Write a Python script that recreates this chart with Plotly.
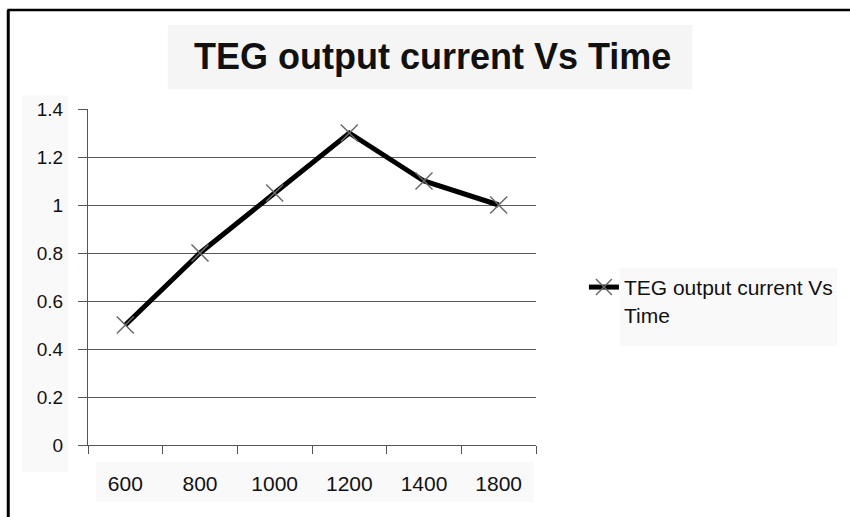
import plotly.graph_objects as go

# Time steps (category labels) and TEG output current readings
time_labels = ["600", "800", "1000", "1200", "1400", "1800"]
current_values = [0.5, 0.8, 1.05, 1.3, 1.1, 1.0]
y_ticks = [0, 0.2, 0.4, 0.6, 0.8, 1.0, 1.2, 1.4]
y_tick_text = ["0", "0.2", "0.4", "0.6", "0.8", "1", "1.2", "1.4"]

title_text = "TEG output current Vs Time"
series_name = "TEG output current Vs<br>Time"

FONT = "Liberation Sans, Arial, sans-serif"

fig = go.Figure()
fig.add_trace(go.Scatter(
    x=time_labels,
    y=current_values,
    mode="lines+markers",
    name=series_name,
    line=dict(color="black", width=5),
    marker=dict(symbol="x-thin-open", size=17, color="#6a6a6a",
                line=dict(color="#6a6a6a", width=1.5)),
))

shapes = [
    # outer frame: top and left edges
    dict(type="line", xref="paper", yref="paper", x0=-0.18, x1=1.72,
         y0=1.295, y1=1.295, line=dict(color="black", width=2.5)),
    dict(type="line", xref="paper", yref="paper", x0=-0.178, x1=-0.178,
         y0=1.295, y1=-0.25, line=dict(color="black", width=3)),
    # faint panels behind the title, tick labels and legend text
    dict(type="rect", xref="paper", yref="paper", x0=0.178, x1=1.349,
         y0=1.058, y1=1.25, fillcolor="#f5f5f5", line_width=0, layer="below"),
    dict(type="rect", xref="paper", yref="paper", x0=-0.147, x1=-0.045,
         y0=-0.08, y1=1.04, fillcolor="#f9f9f9", line_width=0, layer="below"),
    dict(type="rect", xref="paper", yref="paper", x0=0.018, x1=0.995,
         y0=-0.17, y1=-0.05, fillcolor="#f9f9f9", line_width=0, layer="below"),
    dict(type="rect", xref="paper", yref="paper", x0=1.187, x1=1.672,
         y0=0.295, y1=0.527, fillcolor="#f9f9f9", line_width=0, layer="below"),
]

fig.update_layout(
    width=850,
    height=517,
    margin=dict(l=88, r=312, t=109, b=72),
    paper_bgcolor="white",
    plot_bgcolor="white",
    font=dict(family=FONT, size=19, color="#111111"),
    shapes=shapes,
    annotations=[dict(
        text="<b>" + title_text + "</b>", xref="paper", yref="paper",
        x=0.769, y=1.155, xanchor="center", yanchor="middle",
        showarrow=False, font=dict(family=FONT, size=36, color="#111111"),
    )],
    showlegend=True,
    legend=dict(
        x=1.107, y=0.53, xanchor="left", yanchor="top",
        bgcolor="rgba(0,0,0,0)", valign="top",
        font=dict(family=FONT, size=21, color="#111111"),
    ),
    xaxis=dict(
        type="category",
        range=[-0.5, 5.5],
        showgrid=False,
        showline=True, linecolor="#555555", linewidth=1,
        ticks="outside", ticklen=8, tickcolor="#555555",
        tickson="boundaries",
        ticklabelstandoff=20,
        tickfont=dict(size=21),
        zeroline=False,
    ),
    yaxis=dict(
        range=[0, 1.4],
        tickvals=y_ticks,
        ticktext=y_tick_text,
        showgrid=True, gridcolor="#5a5a5a", gridwidth=1,
        showline=True, linecolor="#555555", linewidth=1,
        ticks="outside", ticklen=9, tickcolor="#555555",
        ticklabelstandoff=11,
        tickfont=dict(size=19),
        zeroline=False,
    ),
)

fig.write_html("out.html")
